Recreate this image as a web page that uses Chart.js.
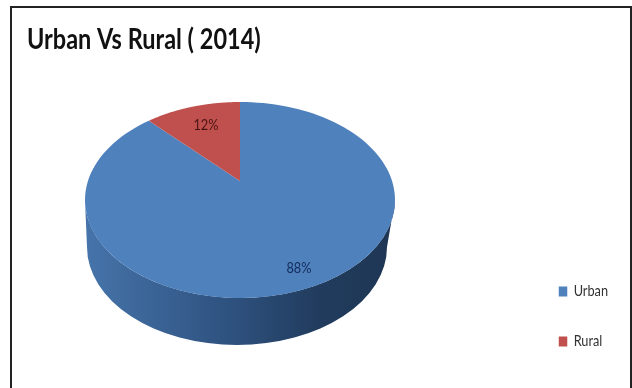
<!DOCTYPE html>
<html>
<head>
<meta charset="utf-8">
<title>Urban Vs Rural (2014)</title>
<script src="https://cdn.jsdelivr.net/npm/chart.js@4"></script>
<style>
    html, body { margin: 0; padding: 0; background: #fff; }
    #frame { position: absolute; left: 10px; top: 6px; width: 618px; height: 382px; border: solid #222; border-width: 2px 2px 0 2px; }
    #wrap { position: absolute; left: 0; top: 0; width: 632px; height: 388px; }
</style>
</head>
<body>
<div id="frame"></div>
<div id="wrap"><canvas id="pieChart"></canvas></div>
<script>
const categories = ['Urban', 'Rural'];
const shares = [88, 12];
const sliceColors = ['#4f81bd', '#c0504d'];
const labelColors = ['#142c5c', '#4a1414'];
const chartTitle = 'Urban Vs Rural ( 2014)';

// disc on screen
const disc = { cx: 240, cy: 200, rx: 155, ry: 98, depth: 47, skew: 0.194 };
const labelSpots = [[299, 268], [206, 125]];

// perspective: circle point at angle -> point on the tilted disc (rim stays an ellipse)
function project(angle, r) {
    const u = Math.cos(angle) * r;
    const v = Math.sin(angle) * r;
    const d = 1 - disc.skew * v;
    return [
        disc.cx + disc.rx * u * Math.sqrt(1 - disc.skew * disc.skew) / d,
        disc.cy + disc.ry * (v - disc.skew) / d
    ];
}

// no narrow font installed, so squeeze a box's text sideways when it draws
function condense(box, ctx, sx) {
    const draw = box.draw;
    box.draw = function () {
        ctx.save();
        ctx.translate(this.left, 0);
        ctx.scale(sx, 1);
        ctx.translate(-this.left, 0);
        draw.call(this);
        ctx.restore();
    };
}

const tiltedPie = {
    id: 'tiltedPie',
    afterLayout(chart) {
        if (chart.$condensed) return;
        chart.$condensed = true;
        condense(chart.titleBlock, chart.ctx, 0.81);
        condense(chart.legend, chart.ctx, 0.85);
    },
    beforeDatasetDraw(chart, args) {
        const ctx = chart.ctx;
        const arcs = chart.getDatasetMeta(args.index).data;

        // side wall below the front rim
        const wall = ctx.createLinearGradient(disc.cx - disc.rx, 0, disc.cx + disc.rx, 0);
        wall.addColorStop(0, '#4674aa');
        wall.addColorStop(0.45, '#2f5381');
        wall.addColorStop(0.75, '#213c5e');
        wall.addColorStop(1, '#1f3654');
        ctx.save();
        ctx.fillStyle = wall;
        ctx.beginPath();
        ctx.ellipse(disc.cx, disc.cy, disc.rx, disc.ry, 0, 0, Math.PI);
        ctx.ellipse(disc.cx - 3, disc.cy + disc.depth, disc.rx - 5, disc.ry, 0, Math.PI, 0, true);
        ctx.closePath();
        ctx.fill();

        // top face, one path per slice using the angles the library computed
        arcs.forEach((arc, i) => {
            const { startAngle, endAngle } = arc.getProps(['startAngle', 'endAngle'], true);
            ctx.beginPath();
            ctx.moveTo(...project(0, 0));
            for (let s = 0; s <= 120; s++) {
                ctx.lineTo(...project(startAngle + (endAngle - startAngle) * s / 120, 1));
            }
            ctx.closePath();
            ctx.fillStyle = sliceColors[i];
            ctx.fill();
        });

        // percent labels
        ctx.font = '16px Lato';
        ctx.textAlign = 'center';
        ctx.textBaseline = 'middle';
        shares.forEach((share, i) => {
            ctx.save();
            ctx.translate(labelSpots[i][0], labelSpots[i][1]);
            ctx.scale(0.8, 1);
            ctx.fillStyle = labelColors[i];
            ctx.fillText(share + '%', 0, 0);
            ctx.restore();
        });
        ctx.restore();
        return false;
    }
};

new Chart(document.getElementById('pieChart'), {
    type: 'pie',
    data: {
        labels: categories,
        datasets: [{ data: shares, backgroundColor: sliceColors, borderWidth: 0 }]
    },
    options: {
        responsive: true,
        maintainAspectRatio: false,
        animation: false,
        layout: { padding: { left: 27, right: 0, bottom: 4, top: 0 } },
        plugins: {
            title: {
                display: true,
                text: chartTitle,
                align: 'start',
                color: '#111',
                font: { family: 'Lato', size: 29, weight: 'bold' },
                padding: { top: 22, bottom: 10 }
            },
            legend: {
                position: 'right',
                align: 'end',
                labels: {
                    boxWidth: 10,
                    boxHeight: 10,
                    padding: 35,
                    color: '#333',
                    font: { family: 'Lato', size: 15 }
                }
            },
            tooltip: { enabled: false }
        }
    },
    plugins: [tiltedPie]
});
</script>
</body>
</html>
